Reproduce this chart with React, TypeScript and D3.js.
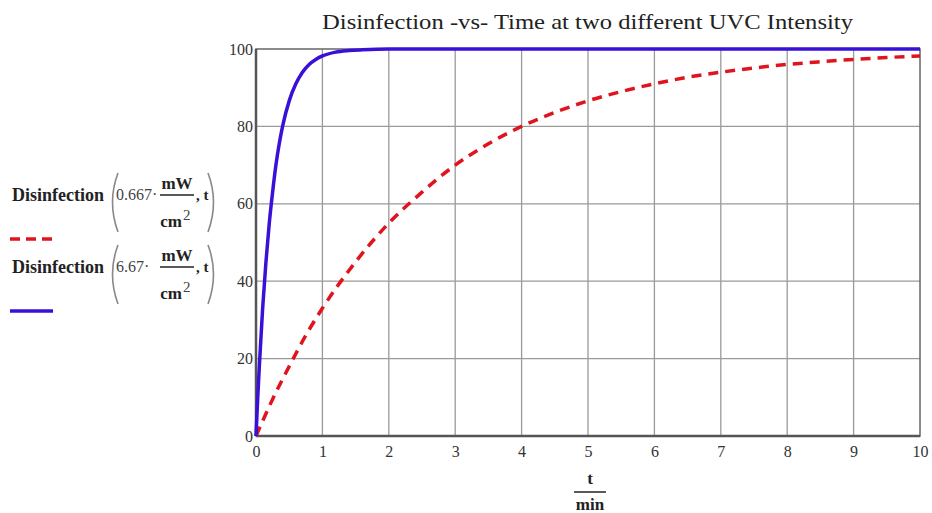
import React, { useEffect, useRef } from "react";
import * as d3 from "d3";

// values
const redTime = [0, 0.25, 0.5, 0.75, 1, 1.5, 2, 2.5, 3, 3.5, 4, 4.5, 5, 5.5, 6, 6.5, 7, 7.5, 8, 8.5, 9, 9.5, 10];
const redDisinfection = [0, 9.5, 18, 26, 33, 45, 55, 63, 70, 75.5, 80, 83.6, 86.6, 89, 91, 92.7, 94, 95.1, 96, 96.7, 97.3, 97.8, 98.2];

const blueTime = [0, 0.025, 0.05, 0.1, 0.15, 0.2, 0.25, 0.3, 0.35, 0.4, 0.5, 0.6, 0.7, 0.8, 0.9, 1, 1.2, 1.4, 1.6, 2, 3, 5, 10];
const blueDisinfection = [0, 9.5, 18, 33, 45, 55, 63, 70, 75.5, 80, 86.6, 91, 94, 96, 97.3, 98.2, 99.2, 99.6, 99.8, 100, 100, 100, 100];

const xTicks = [0, 1, 2, 3, 4, 5, 6, 7, 8, 9, 10];
const yTicks = [0, 20, 40, 60, 80, 100];

const title = "Disinfection -vs- Time at two different UVC Intensity";
const legendLabels = ["0.667", "6.67"];

const App = () => {
  const svgRef = useRef<SVGSVGElement>(null);

  useEffect(() => {
    const w = 932;
    const h = 513;
    const margin = { top: 49, right: 12, bottom: 77, left: 256 };
    const iw = w - margin.left - margin.right;
    const ih = h - margin.top - margin.bottom;
    const font = "'Liberation Serif', 'Times New Roman', serif";

    const svg = d3.select(svgRef.current).attr("width", w).attr("height", h);
    svg.selectAll("*").remove();
    svg.append("rect").attr("width", w).attr("height", h).attr("fill", "white");

    const x = d3.scaleLinear().domain([0, 10]).range([0, iw]);
    const y = d3.scaleLinear().domain([0, 100]).range([ih, 0]);

    svg
      .append("text")
      .attr("x", 322)
      .attr("y", 29)
      .attr("font-family", font)
      .attr("font-size", 22)
      .attr("textLength", 531)
      .attr("lengthAdjust", "spacingAndGlyphs")
      .attr("fill", "#222")
      .text(title);

    const g = svg.append("g").attr("transform", `translate(${margin.left},${margin.top})`);

    // grid
    g.append("g")
      .selectAll("line")
      .data(xTicks.slice(1, -1))
      .join("line")
      .attr("x1", (d) => x(d))
      .attr("x2", (d) => x(d))
      .attr("y1", 0)
      .attr("y2", ih)
      .attr("stroke", "#9a9a9a")
      .attr("stroke-width", 1.3);
    g.append("g")
      .selectAll("line")
      .data(yTicks.slice(1, -1))
      .join("line")
      .attr("x1", 0)
      .attr("x2", iw)
      .attr("y1", (d) => y(d))
      .attr("y2", (d) => y(d))
      .attr("stroke", "#9a9a9a")
      .attr("stroke-width", 1.3);

    // frame
    g.append("rect")
      .attr("width", iw)
      .attr("height", ih)
      .attr("fill", "none")
      .attr("stroke", "#666")
      .attr("stroke-width", 1.5);
    g.append("line").attr("x1", 0).attr("x2", iw).attr("y1", ih).attr("y2", ih).attr("stroke", "#555").attr("stroke-width", 2.5);
    g.append("line").attr("x1", 0).attr("x2", 0).attr("y1", 0).attr("y2", ih).attr("stroke", "#555").attr("stroke-width", 2.5);

    // ticks
    const xAxis = d3.axisBottom(x).tickValues(xTicks).tickSize(0).tickPadding(10).tickFormat(d3.format("d"));
    const yAxis = d3.axisLeft(y).tickValues(yTicks).tickSize(0).tickPadding(3).tickFormat(d3.format("d"));
    const xg = g.append("g").attr("transform", `translate(0,${ih})`).call(xAxis);
    const yg = g.append("g").call(yAxis);
    [xg, yg].forEach((a) => {
      a.select(".domain").remove();
      a.selectAll("text").attr("font-family", font).attr("font-size", 16).attr("fill", "#333");
    });

    const line = d3
      .line<[number, number]>()
      .x((d) => x(d[0]))
      .y((d) => y(d[1]))
      .curve(d3.curveMonotoneX);

    g.append("path")
      .datum(redTime.map((t, i) => [t, redDisinfection[i]] as [number, number]))
      .attr("d", line)
      .attr("fill", "none")
      .attr("stroke", "#e0141e")
      .attr("stroke-width", 3.5)
      .attr("stroke-dasharray", "10,7");

    g.append("path")
      .datum(blueTime.map((t, i) => [t, blueDisinfection[i]] as [number, number]))
      .attr("d", line)
      .attr("fill", "none")
      .attr("stroke", "#3a10d8")
      .attr("stroke-width", 3.5);

    // x axis label t / min
    const xl = svg.append("g").attr("font-family", font).attr("font-weight", "bold").attr("font-size", 17).attr("fill", "#222").attr("text-anchor", "middle");
    xl.append("text").attr("x", 590).attr("y", 484).text("t");
    xl.append("line").attr("x1", 574).attr("x2", 606).attr("y1", 492).attr("y2", 492).attr("stroke", "#222").attr("stroke-width", 1.5);
    xl.append("text").attr("x", 590).attr("y", 510).text("min");

    // legend
    const paren = (x0: number, dir: number) =>
      `M${x0},173 Q${x0 - dir * 11},202 ${x0},232`;
    const legend = svg.append("g").attr("font-family", font).attr("fill", "#222");
    legendLabels.forEach((lab, i) => {
      const lg = legend.append("g").attr("transform", `translate(0,${i * 72})`);
      lg.append("text").attr("x", 12).attr("y", 201).attr("font-size", 18).attr("font-weight", "bold").attr("textLength", 92).text("Disinfection");
      lg.append("path").attr("d", paren(118, 1)).attr("fill", "none").attr("stroke", "#888").attr("stroke-width", 1.6);
      lg.append("path").attr("d", paren(208, -1)).attr("fill", "none").attr("stroke", "#888").attr("stroke-width", 1.6);
      lg.append("text").attr("x", 116).attr("y", 200).attr("font-size", 16).attr("fill", "#444").text(lab + "·");
      const fx = 177;
      lg.append("text").attr("x", fx).attr("y", 189).attr("font-size", 17).attr("font-weight", "bold").attr("text-anchor", "middle").text("mW");
      lg.append("line").attr("x1", fx - 17).attr("x2", fx + 17).attr("y1", 195).attr("y2", 195).attr("stroke", "#222").attr("stroke-width", 1.3);
      lg.append("text").attr("x", fx - 6).attr("y", 227).attr("font-size", 17).attr("font-weight", "bold").attr("text-anchor", "middle").text("cm");
      lg.append("text").attr("x", fx + 6).attr("y", 220).attr("font-size", 15).attr("fill", "#444").text("2");
      lg.append("text").attr("x", 196).attr("y", 200).attr("font-size", 15).attr("font-weight", "bold").text(", t");
      lg.append("line")
        .attr("x1", 10)
        .attr("x2", 53)
        .attr("y1", 239)
        .attr("y2", 239)
        .attr("stroke", i === 0 ? "#e0141e" : "#3a10d8")
        .attr("stroke-width", 3.5)
        .attr("stroke-dasharray", i === 0 ? "10,6" : null);
    });
  }, []);

  return (
    <div style={{ position: "absolute", left: 0, top: 0 }}>
      <svg ref={svgRef}></svg>
    </div>
  );
};

export default App;
